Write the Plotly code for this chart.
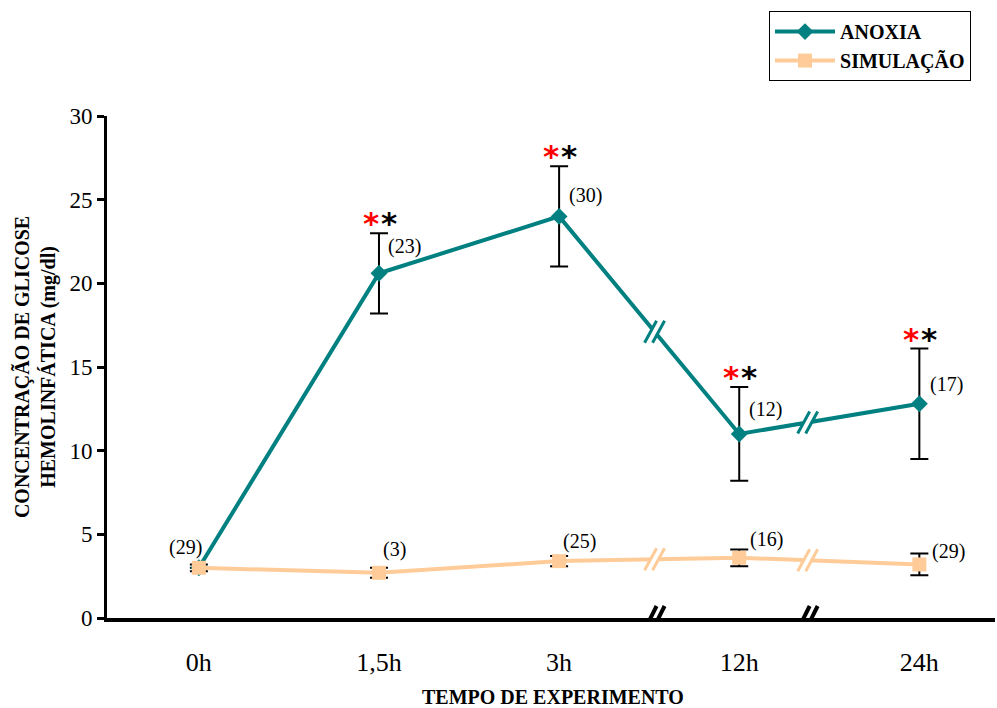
import plotly.graph_objects as go
import numpy as np

# Sampling times and glucose concentration (mg/dl)
times = ["0h", "1,5h", "3h", "12h", "24h"]
anoxia = [3.0, 20.6, 24.0, 11.0, 12.8]
anoxia_err = [0.0, 2.4, 3.0, 2.8, 3.3]
simulacao = [3.0, 2.7, 3.4, 3.6, 3.2]
simulacao_err = [0.2, 0.3, 0.3, 0.5, 0.65]
n_anoxia = ["(29)", "(23)", "(30)", "(12)", "(17)"]
n_simulacao = ["", "(3)", "(25)", "(16)", "(29)"]
signif = [False, True, True, True, True]
# axis breaks between 3h-12h and 12h-24h
breaks_x = [2.53, 3.38]

TEAL = "#008080"
PEACH = "#FFCC99"
FONT = "Liberation Serif, Times New Roman, serif"

xs = list(range(len(times)))

fig = go.Figure()
fig.add_trace(go.Scatter(
    x=xs, y=anoxia, name="<b>ANOXIA</b>", mode="lines+markers",
    line=dict(color=TEAL, width=4),
    marker=dict(symbol="diamond", size=13, color=TEAL),
    error_y=dict(type="data", array=anoxia_err, color="black", thickness=2, width=9),
))
fig.add_trace(go.Scatter(
    x=xs, y=simulacao, name="<b>SIMULAÇÃO</b>", mode="lines+markers",
    line=dict(color=PEACH, width=4),
    marker=dict(symbol="square", size=14, color=PEACH),
    error_y=dict(type="data", array=simulacao_err, color="black", thickness=2, width=9),
))

shapes = []


def break_mark(xb, yb, color, width=3, half=(6, 11), yref="y"):
    # two parallel slanted strokes with a white gap between them
    hx, hy = half
    common = dict(type="line", xref="x", yref=yref, xsizemode="pixel", ysizemode="pixel",
                  xanchor=xb, yanchor=yb, layer="above")
    shapes.append(dict(common, x0=-hx, y0=-hy, x1=hx, y1=hy, line=dict(color="white", width=5)))
    for off in (-4, 4):
        shapes.append(dict(common, x0=-hx + off, y0=-hy, x1=hx + off, y1=hy,
                           line=dict(color=color, width=width)))


for xb in breaks_x:
    break_mark(xb, float(np.interp(xb, xs, anoxia)), TEAL)
    break_mark(xb, float(np.interp(xb, xs, simulacao)), PEACH)
    break_mark(xb, 0, "black", width=4, half=(6, 12))

fig.update_layout(shapes=shapes)

LABEL_FONT = dict(family=FONT, size=20, color="black")
annotations = []
# sample sizes
an_shift = [(-13, 20), (26, 27), (26, 21), (26, 24), (27, 19)]
for i, t in enumerate(n_anoxia):
    dx, dy = an_shift[i]
    annotations.append(dict(x=xs[i], y=anoxia[i], text=t, showarrow=False,
                            xshift=dx, yshift=dy, font=LABEL_FONT))
sim_shift = [(0, 0), (16, 23), (20, 20), (27, 18), (29, 13)]
for i, t in enumerate(n_simulacao):
    if not t:
        continue
    dx, dy = sim_shift[i]
    annotations.append(dict(x=xs[i], y=simulacao[i], text=t, showarrow=False,
                            xshift=dx, yshift=dy, font=LABEL_FONT))
# significance asterisks above the error bars
for i, s in enumerate(signif):
    if not s:
        continue
    top = anoxia[i] + anoxia_err[i]
    for dx, col in ((-8, "red"), (10, "black")):
        annotations.append(dict(x=xs[i], y=top, text="<b>*</b>", showarrow=False,
                                xshift=dx, yshift=10,
                                font=dict(family="DejaVu Sans", size=31, color=col)))

annotations.append(dict(xref="paper", yref="paper", x=-0.081, y=0.5,
                        xanchor="center", yanchor="middle",
                        text="<b>CONCENTRAÇÃO DE GLICOSE<br>HEMOLINFÁTICA (mg/dl)</b>",
                        textangle=-90, showarrow=False,
                        font=dict(family=FONT, size=20, color="black")))
annotations.append(dict(xref="paper", yref="paper", x=0.502, y=-0.157,
                        xanchor="center", yanchor="middle",
                        text="<b>TEMPO DE EXPERIMENTO</b>", showarrow=False,
                        font=dict(family=FONT, size=20, color="black")))
fig.update_layout(annotations=annotations)

fig.update_layout(
    width=997, height=708,
    margin=dict(l=107, r=2, t=116, b=90),
    paper_bgcolor="white", plot_bgcolor="white",
    showlegend=True,
    legend=dict(x=0.7455, y=1.209, xanchor="left", yanchor="top",
                bordercolor="black", borderwidth=1, bgcolor="white",
                font=dict(family=FONT, size=20, color="black"),
                itemwidth=60, tracegroupgap=2),
    font=dict(family=FONT, color="black"),
)
fig.update_xaxes(range=[-0.51, 4.42], tickvals=xs, ticktext=times,
                 showgrid=False, zeroline=False, showline=True,
                 linecolor="black", linewidth=4, ticks="",
                 ticklabelstandoff=18,
                 tickfont=dict(family=FONT, size=26, color="black"))
fig.update_yaxes(range=[0, 30], dtick=5, showgrid=False, zeroline=False,
                 showline=True, linecolor="black", linewidth=3,
                 ticks="outside", ticklen=7, tickwidth=3, tickcolor="black",
                 tickfont=dict(family=FONT, size=23, color="black"))

fig.write_html("out.html")
